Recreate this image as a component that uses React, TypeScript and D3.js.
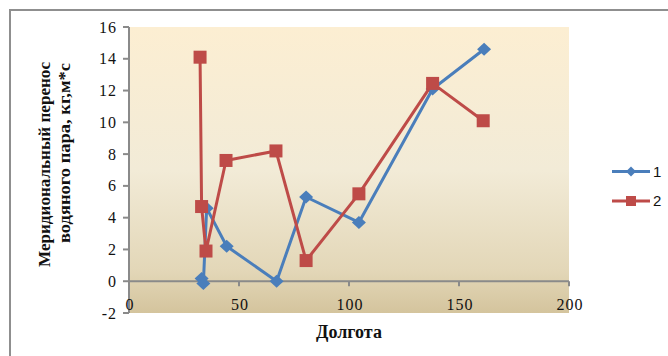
import React from "react";
import * as d3 from "d3";

const s1Lon = [33, 33.8, 35.3, 44.4, 67.1, 80.5, 104.5, 138, 161.4];
const s1Val = [0.17, -0.15, 4.6, 2.2, 0.0, 5.3, 3.7, 12.1, 14.6];
const s2Lon = [32.3, 33, 35, 44.1, 66.8, 80.5, 104.5, 138, 161];
const s2Val = [14.1, 4.7, 1.9, 7.6, 8.2, 1.3, 5.5, 12.45, 10.1];
const seriesNames = ["1", "2"];
const xTicks = [0, 50, 100, 150, 200];
const yTicks = [-2, 0, 2, 4, 6, 8, 10, 12, 14, 16];
const yTitle1 = "Меридиональный перенос";
const yTitle2 = "водяного пара, кг,м*с";
const xTitle = "Долгота";

const W = 668, H = 356;
const L = 129, R = 569, T = 27, B = 313;

export default function App() {
  const x = d3.scaleLinear().domain([0, 200]).range([L, R]);
  const y = d3.scaleLinear().domain([-2, 16]).range([B, T]);
  const line = d3.line<[number, number]>().x(d => x(d[0])).y(d => y(d[1]));
  const d1: [number, number][] = s1Lon.map((v, i) => [v, s1Val[i]]);
  const d2: [number, number][] = s2Lon.map((v, i) => [v, s2Val[i]]);
  const blue = "#4A7EBB";
  const red = "#BE4B48";
  const serif = "'Liberation Serif', 'Times New Roman', serif";
  const diamond = (cx: number, cy: number, hw: number, hh: number) =>
    `M${cx},${cy - hh}L${cx + hw},${cy}L${cx},${cy + hh}L${cx - hw},${cy}Z`;
  return (
    <div style={{ position: "fixed", left: 0, top: 0 }}>
      <svg width={W} height={H} style={{ display: "block", background: "#fff" }}>
        <defs>
          <linearGradient id="bg" x1="0" y1="0" x2="0" y2="1">
            <stop offset="0" stopColor="#FCEED2" />
            <stop offset="0.5" stopColor="#F2EBD7" />
            <stop offset="0.85" stopColor="#E3D7B8" />
            <stop offset="1" stopColor="#D4C49D" />
          </linearGradient>
        </defs>
        <path d={`M10,${H + 2}V10H${W + 2}`} fill="none" stroke="#8f8f8f" strokeWidth={2} />
        <rect x={L} y={T} width={R - L} height={B - T} fill="url(#bg)" />
        {/* y axis */}
        <line x1={L} x2={L} y1={T} y2={B} stroke="#8a8a8a" strokeWidth={2} />
        {yTicks.map(t => (
          <g key={"y" + t}>
            <line x1={L - 6} x2={L} y1={y(t)} y2={y(t)} stroke="#8a8a8a" strokeWidth={2} />
            <text x={L - 12} y={y(t)} dy="0.35em" textAnchor="end" fontFamily={serif} fontSize={16} letterSpacing={1} fill="#111">
              {t}
            </text>
          </g>
        ))}
        {/* x axis */}
        <line x1={L} x2={R} y1={y(0)} y2={y(0)} stroke="#8a8a8a" strokeWidth={2} />
        {xTicks.map(t => (
          <g key={"x" + t}>
            <line x1={x(t)} x2={x(t)} y1={y(0)} y2={y(0) + 5} stroke="#8a8a8a" strokeWidth={2} />
            <text x={x(t) + 1} y={310} textAnchor="middle" fontFamily={serif} fontSize={16} letterSpacing={1} fill="#111">
              {t}
            </text>
          </g>
        ))}
        {/* series */}
        <path d={line(d1) || ""} fill="none" stroke={blue} strokeWidth={3} strokeLinejoin="round" />
        {d1.map((p, i) => (
          <path key={"b" + i} d={diamond(x(p[0]), y(p[1]), 7, 6.5)} fill={blue} />
        ))}
        <path d={line(d2) || ""} fill="none" stroke={red} strokeWidth={3} strokeLinejoin="round" />
        {d2.map((p, i) => (
          <rect key={"r" + i} x={x(p[0]) - 6.5} y={y(p[1]) - 6.5} width={13} height={13} fill={red} />
        ))}
        {/* titles */}
        <text transform="translate(50,62) rotate(-90)" textAnchor="end" fontFamily={serif} fontWeight="bold" fontSize={17} textLength={205} lengthAdjust="spacingAndGlyphs" fill="#111">
          {yTitle1}
        </text>
        <text transform="translate(70,63) rotate(-90)" textAnchor="end" fontFamily={serif} fontWeight="bold" fontSize={17} textLength={180} lengthAdjust="spacingAndGlyphs" fill="#111">
          {yTitle2}
        </text>
        <text x={349} y={338} textAnchor="middle" fontFamily={serif} fontWeight="bold" fontSize={18} fill="#111">
          {xTitle}
        </text>
        {/* legend */}
        <line x1={612} x2={650} y1={171.5} y2={171.5} stroke={blue} strokeWidth={3} />
        <path d={diamond(631, 171.5, 5, 5)} fill={blue} />
        <text x={653} y={171.5} dy="0.35em" fontFamily="'Liberation Sans', Arial, sans-serif" fontSize={15} fill="#111">
          {seriesNames[0]}
        </text>
        <line x1={612} x2={650} y1={201} y2={201} stroke={red} strokeWidth={3} />
        <rect x={626} y={196} width={10} height={10} fill={red} />
        <text x={653} y={201} dy="0.35em" fontFamily="'Liberation Sans', Arial, sans-serif" fontSize={15} fill="#111">
          {seriesNames[1]}
        </text>
      </svg>
    </div>
  );
}
